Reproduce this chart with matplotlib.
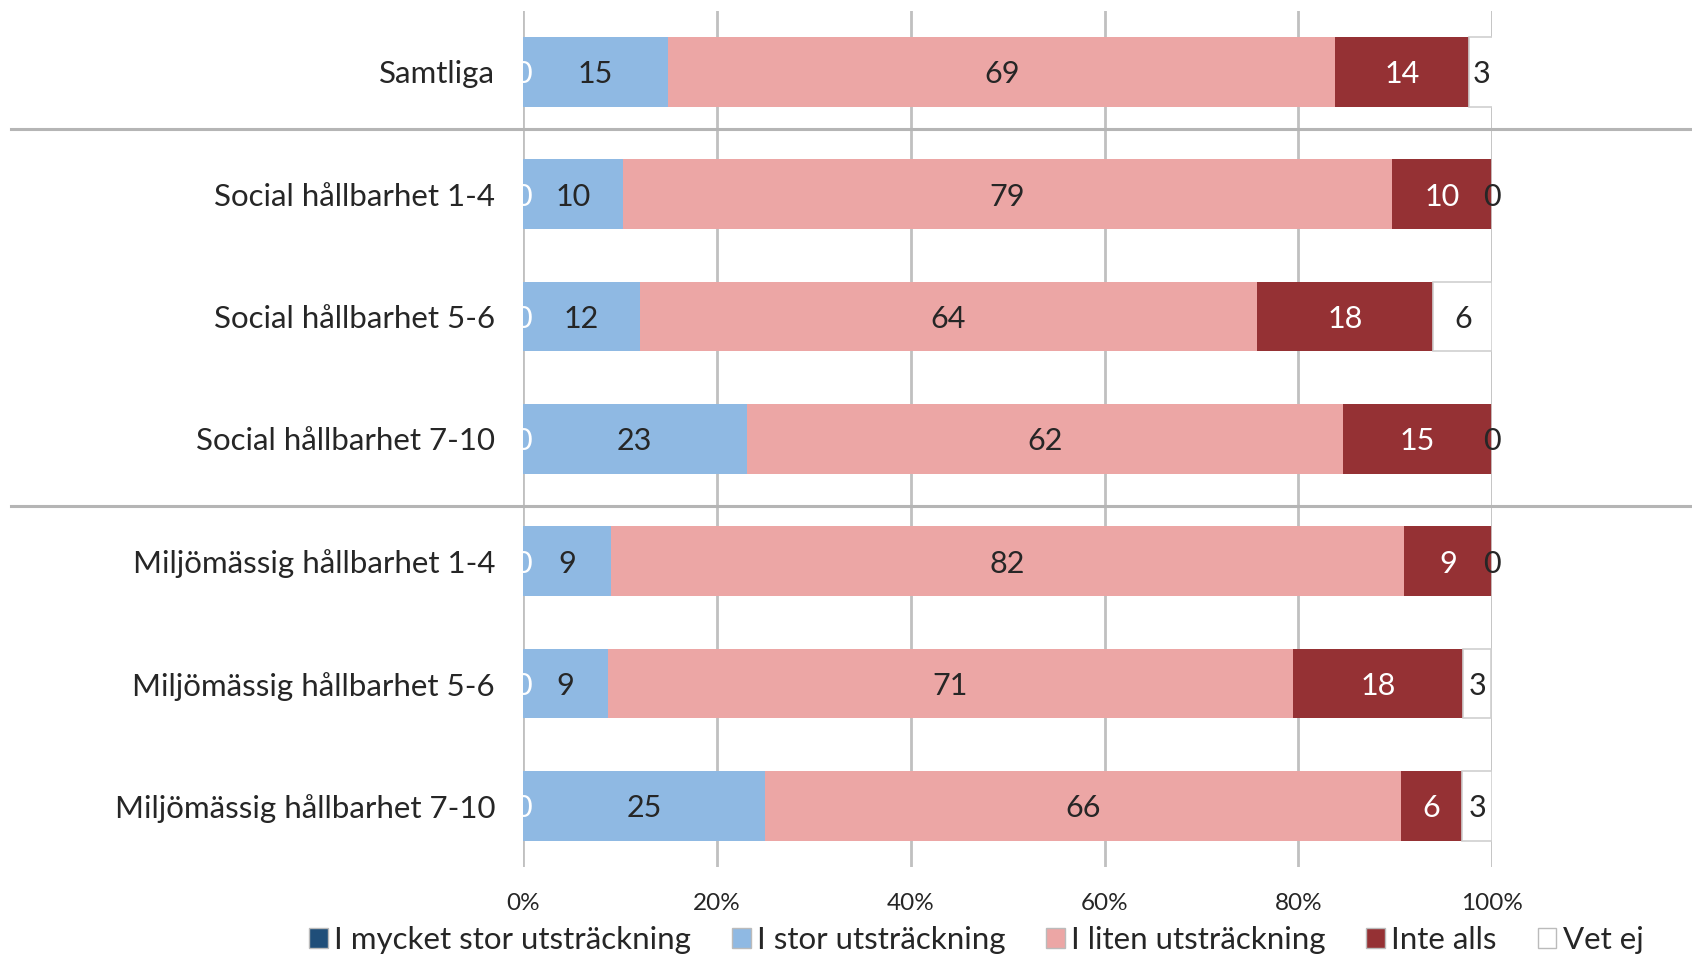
import matplotlib
matplotlib.use("Agg")
import matplotlib.pyplot as plt
import matplotlib.transforms as mtransforms
from matplotlib.lines import Line2D
import numpy as np

plt.rcParams['font.family'] = ['Lato', 'DejaVu Sans']

categories = ["Samtliga", "Social hållbarhet 1-4", "Social hållbarhet 5-6",
              "Social hållbarhet 7-10", "Miljömässig hållbarhet 1-4",
              "Miljömässig hållbarhet 5-6", "Miljömässig hållbarhet 7-10"]
series_names = ["I mycket stor utsträckning", "I stor utsträckning",
                "I liten utsträckning", "Inte alls", "Vet ej"]
mycket_stor = [0.0, 0.0, 0.0, 0.0, 0.0, 0.0, 0.0]
stor = [15.0, 10.3, 12.1, 23.1, 9.1, 8.8, 25.0]
liten = [68.8, 79.4, 63.6, 61.5, 81.8, 70.6, 65.6]
inte_alls = [13.8, 10.3, 18.2, 15.4, 9.1, 17.6, 6.3]
vet_ej = [2.5, 0.0, 6.1, 0.0, 0.0, 2.9, 3.1]
xticklabels = ["0%", "20%", "40%", "60%", "80%", "100%"]

series = [mycket_stor, stor, liten, inte_alls, vet_ej]
colors = ["#1f4e79", "#8fb9e3", "#eca6a5", "#953134", "#ffffff"]
edges = ["none", "none", "none", "none", "#d0d0d0"]
label_colors = ["white", "#262626", "#262626", "white", "#262626"]
clip = [True, False, False, False, False]

fig = plt.figure(figsize=(16.92, 9.57), dpi=100)
ax = fig.add_axes([0.309, 0.094, 0.573, 0.8947])

y = np.arange(len(categories))
left = np.zeros(len(categories))
for vals, name, c, ec, lc, cl in zip(series, series_names, colors, edges, label_colors, clip):
    vals = np.array(vals)
    ax.barh(y, vals, left=left, height=0.57, color=c, edgecolor=ec,
            linewidth=1.2 if ec != "none" else 0, label=name, zorder=2)
    for yi, (l, v) in enumerate(zip(left, vals)):
        ax.text(l + v / 2, yi + 0.02, f"{int(v + 0.5)}", ha="center", va="center",
                fontsize=22, color=lc, zorder=3, clip_on=cl)
    left = left + vals

ax.set_xlim(0, 100)
ax.set_ylim(len(categories) - 0.5, -0.5)
ax.set_yticks(y)
ax.set_yticklabels(categories, fontsize=22.5, color="#262626")
ax.set_xticks([0, 20, 40, 60, 80, 100])
ax.set_xticklabels(xticklabels, fontsize=17.5, color="#262626")
ax.tick_params(axis="both", length=0)
ax.tick_params(axis="x", pad=19)
ax.tick_params(axis="y", pad=20)
ax.grid(axis="x", color="#c0c0c0", linewidth=2, zorder=0)
ax.set_axisbelow(True)
for s in ax.spines.values():
    s.set_visible(False)

trans = mtransforms.blended_transform_factory(fig.transFigure, ax.transData)
for ys in [0.47, 3.55]:
    fig.add_artist(Line2D([0.0065, 1.0], [ys, ys], transform=trans,
                          color="#b5b5b5", linewidth=2.2))

leg = fig.legend(loc="center", bbox_to_anchor=(0.577, 0.018), ncol=5,
                 frameon=False, fontsize=22.5, handlelength=0.6, handleheight=0.6,
                 handletextpad=0.2, columnspacing=1.3, labelcolor="#262626")
for h in leg.legend_handles:
    h.set_edgecolor("#bbbbbb")
    h.set_linewidth(1)

fig.savefig("out.png", dpi=100)
